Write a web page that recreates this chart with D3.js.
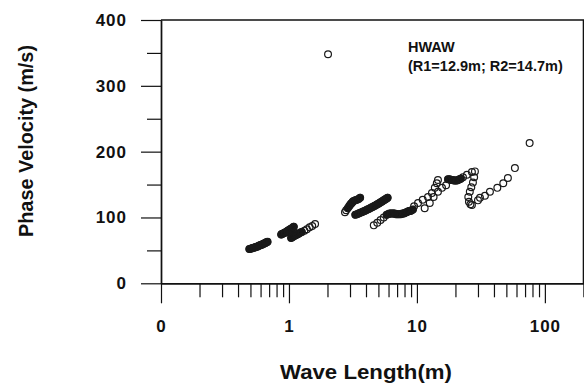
<!DOCTYPE html>
<html>
<head>
<meta charset="utf-8">
<script src="https://cdn.jsdelivr.net/npm/d3@7"></script>
<style>
  body { margin: 0; background: #fff; }
  svg { display: block; }
</style>
</head>
<body>
<svg></svg>
<script>
var branch1Len = [0.49,0.50,0.51,0.52,0.53,0.54,0.55,0.56,0.57,0.58,0.59,0.60,0.61,0.62,0.63,0.64,0.65,0.66,0.67,0.68];
var branch1Vel = [52,52.5,53,53.5,54,54.5,55,55.5,56,57,57.5,58,58.5,59,60,60.5,61,62,62.5,63];

var branch2Len = [0.87,0.88,0.90,0.92,0.93,0.95,0.97,0.98,1.00,1.02,1.04,1.06,1.08,1.09];
var branch2Vel = [74,75,75.5,76.5,77,78,79,80,81,82,83,84,85,86];

var branch3Len = [1.04,1.06,1.08,1.10,1.12,1.14,1.16,1.18,1.20,1.23,1.26,1.32,1.38,1.45,1.52,1.60];
var branch3Vel = [69,70,71,72,73,73.5,74.5,75,76,77,78,80,82,85,87,90];

var branch4Len = [2.74,2.80,2.88,2.95,3.0,3.05,3.1,3.15,3.2,3.3,3.4,3.5,3.6];
var branch4Vel = [108,111,114,117,119,121,122,124,125,126,127,128,130];

var branch5Len = [3.3,3.4,3.5,3.6,3.7,3.8,3.9,4.0,4.1,4.2,4.3,4.4,4.5,4.6,4.7,4.8,4.9,5.0,5.1,5.2,5.3,5.4,5.5,5.6,5.7,5.8,5.9];
var branch5Vel = [104,105,106,107,108,109,110,111,112,113,114,115,116,117,118,119,120,121,122,123,124,125,126,127,128,129,130];

var branch6Len = [4.6,4.9,5.2,5.5,5.8,5.95,6.1,6.25,6.4,6.55,6.7,6.85,7.0,7.15,7.3,7.5,7.7,7.9,8.1,8.3,8.5,8.7,8.9,9.1,9.3];
var branch6Vel = [88,92,96,100,104,105,106,106,106,106,106,105,105,105,105,105,106,106,107,108,109,110,110,111,112];

var branch7Len = [9.5,10.2,11.1,12.2,13.1,13.8,14.3,14.6];
var branch7Vel = [117,122,127,131,137,145,152,157];

var branch8Len = [11.5,12.6,13.5,14.6,15.7,16.9];
var branch8Vel = [114,122,131,139,145,149];

var branch9Len = [17.5,18,18.5,19,19.5,20,20.5,21,21.5,22];
var branch9Vel = [158,158,157,157,156,156,156,157,158,159];

var branch10Len = [22.9,24.6,26.9,28.4,28.0,27.4,26.6,25.9,25.2,25.5,26.2,26.9];
var branch10Vel = [161,165,169,170,161,153,146,139,131,124,120,119];

var branch11Len = [30,31.1,34.0,37.2,42.5,47.3,51.4,58.3];
var branch11Vel = [126,130,133,139,145,152,160,175];

var strayLen = [2.02, 76];
var strayVel = [348, 213];

var xMajorTicks = [0.1, 1, 10, 100];
var xTickLabels = ["0", "1", "10", "100"];
var xMinorTicks = [0.2,0.3,0.4,0.5,0.6,0.7,0.8,0.9,2,3,4,5,6,7,8,9,20,30,40,50,60,70,80,90,200];
var yMajorTicks = [0, 100, 200, 300, 400];
var yMinorTicks = [50, 150, 250, 350];

var legendLines = ["HWAW", "(R1=12.9m; R2=14.7m)"];

var screen = {width: 584, height: 385};
var plot = {left: 161, right: 583.4, top: 20, bottom: 283.3};
var font = "'Liberation Sans', Arial, Helvetica, sans-serif";
var ink = "#111";

var svg = d3.select("svg")
    .attr("width", screen.width)
    .attr("height", screen.height);

var xScale = d3.scaleLog()
    .domain([0.1, 200])
    .range([plot.left, plot.right]);

var yScale = d3.scaleLinear()
    .domain([0, 400])
    .range([plot.bottom, plot.top]);

var pairUp = function(lens, vels) {
    return lens.map(function(l, i) { return {x: l, y: vels[i]}; });
};

// which stretch of each branch is packed so tight it prints as a solid smear
var branches = [
    {pts: pairUp(branch1Len, branch1Vel), solid: [0, 20]},
    {pts: pairUp(branch2Len, branch2Vel), solid: [0, 14]},
    {pts: pairUp(branch3Len, branch3Vel), solid: [0, 11]},
    {pts: pairUp(branch4Len, branch4Vel), solid: [2, 13]},
    {pts: pairUp(branch5Len, branch5Vel), solid: [0, 27]},
    {pts: pairUp(branch6Len, branch6Vel), solid: [4, 25]},
    {pts: pairUp(branch7Len, branch7Vel), solid: null},
    {pts: pairUp(branch8Len, branch8Vel), solid: null},
    {pts: pairUp(branch9Len, branch9Vel), solid: [0, 10]},
    {pts: pairUp(branch10Len, branch10Vel), solid: null},
    {pts: pairUp(branch11Len, branch11Vel), solid: null},
    {pts: pairUp(strayLen, strayVel), solid: null}
];

var points = [];
branches.forEach(function(b) { points = points.concat(b.pts); });

var styleAxis = function(g) {
    g.select(".domain").attr("stroke", ink).attr("stroke-width", 1.4);
    g.selectAll(".tick line").attr("stroke", ink).attr("stroke-width", 1.2);
    g.selectAll("text")
        .attr("fill", ink)
        .style("font-family", font)
        .style("font-weight", "bold")
        .style("font-size", "17px")
        .style("letter-spacing", "1px");
};

// x axis: major ticks with labels, then minor ticks
var xMajor = svg.append("g")
    .attr("transform", "translate(0," + plot.bottom + ")")
    .call(d3.axisBottom(xScale)
        .tickValues(xMajorTicks)
        .tickFormat(function(d, i) { return xTickLabels[i]; })
        .tickSize(20)
        .tickSizeOuter(0)
        .tickPadding(17));
styleAxis(xMajor);

var xMinor = svg.append("g")
    .attr("transform", "translate(0," + plot.bottom + ")")
    .call(d3.axisBottom(xScale)
        .tickValues(xMinorTicks)
        .tickFormat("")
        .tickSize(14)
        .tickSizeOuter(0));
styleAxis(xMinor);

// y axis
var yMajor = svg.append("g")
    .attr("transform", "translate(" + plot.left + ",0)")
    .call(d3.axisLeft(yScale)
        .tickValues(yMajorTicks)
        .tickSize(20)
        .tickSizeOuter(0)
        .tickPadding(14));
styleAxis(yMajor);

var yMinor = svg.append("g")
    .attr("transform", "translate(" + plot.left + ",0)")
    .call(d3.axisLeft(yScale)
        .tickValues(yMinorTicks)
        .tickFormat("")
        .tickSize(14)
        .tickSizeOuter(0));
styleAxis(yMinor);

// top and right frame
svg.append("path")
    .attr("d", "M" + plot.left + "," + yScale(400) + "H" + xScale(200) + "V" + yScale(0))
    .attr("fill", "none")
    .attr("stroke", ink)
    .attr("stroke-width", 1.4);

var line = d3.line()
    .x(function(p) { return xScale(p.x); })
    .y(function(p) { return yScale(p.y); });

svg.append("g")
    .selectAll("path")
    .data(branches.filter(function(b) { return b.solid; }))
    .enter()
    .append("path")
    .attr("d", function(b) { return line(b.pts.slice(b.solid[0], b.solid[1])); })
    .attr("fill", "none")
    .attr("stroke", ink)
    .attr("stroke-width", 7.5)
    .attr("stroke-linecap", "round")
    .attr("stroke-linejoin", "round");

svg.append("g")
    .selectAll("circle")
    .data(points)
    .enter()
    .append("circle")
    .attr("cx", function(p) { return xScale(p.x); })
    .attr("cy", function(p) { return yScale(p.y); })
    .attr("r", 3.4)
    .attr("fill", "none")
    .attr("stroke", "#1a1a1a")
    .attr("stroke-width", 1.2);

// legend text
svg.selectAll(".legend")
    .data(legendLines)
    .enter()
    .append("text")
    .attr("class", "legend")
    .attr("x", 408)
    .attr("y", function(d, i) { return 52 + i * 18.7; })
    .style("font-family", font).style("font-weight", "bold").style("font-size", "14.5px")
    .attr("fill", ink)
    .text(function(d) { return d; });

// axis titles
svg.append("text")
    .attr("text-anchor", "middle")
    .attr("transform", "translate(33,141) rotate(-90)")
    .attr("textLength", 192).attr("lengthAdjust", "spacingAndGlyphs")
    .style("font-family", font).style("font-weight", "bold").style("font-size", "19.5px")
    .attr("fill", ink)
    .text("Phase Velocity (m/s)");

svg.append("text")
    .attr("text-anchor", "middle")
    .attr("x", 366).attr("y", 379)
    .attr("textLength", 172).attr("lengthAdjust", "spacingAndGlyphs")
    .style("font-family", font).style("font-weight", "bold").style("font-size", "19.5px")
    .attr("fill", ink)
    .text("Wave Length(m)");
</script>
</body>
</html>
